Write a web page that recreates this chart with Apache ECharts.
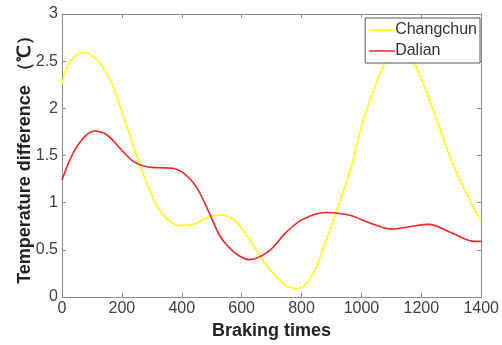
<!DOCTYPE html>
<html>
<head>
<meta charset="utf-8">
<script src="https://cdn.jsdelivr.net/npm/echarts@6/dist/echarts.min.js"></script>
<style>
  html, body { margin: 0; padding: 0; background: #fff; }
  #chart { width: 502px; height: 345px; }
</style>
</head>
<body>
<div id="chart"></div>
<script>
// values
const changchunX = [0, 27, 76, 115, 160, 193, 226, 259, 293, 326, 370, 403, 448, 492, 525, 559, 585, 636, 692, 747, 787, 835, 880, 918, 969, 1002, 1035, 1069, 1100, 1130, 1160, 1174, 1213, 1257, 1301, 1346, 1390, 1400];
const changchunY = [2.26, 2.5, 2.59, 2.52, 2.31, 2.03, 1.72, 1.41, 1.13, 0.92, 0.78, 0.757, 0.78, 0.85, 0.87, 0.85, 0.79, 0.56, 0.3, 0.125, 0.09, 0.23, 0.58, 0.92, 1.41, 1.83, 2.14, 2.42, 2.58, 2.64, 2.58, 2.5, 2.21, 1.83, 1.44, 1.13, 0.85, 0.82];
const dalianX = [0, 38, 76, 110, 149, 193, 237, 282, 326, 370, 403, 448, 492, 525, 553, 590, 625, 692, 747, 802, 880, 958, 1000, 1050, 1102, 1160, 1224, 1301, 1379, 1400];
const dalianY = [1.24, 1.53, 1.7, 1.76, 1.72, 1.58, 1.44, 1.38, 1.37, 1.365, 1.32, 1.17, 0.89, 0.66, 0.54, 0.44, 0.396, 0.49, 0.68, 0.82, 0.896, 0.87, 0.82, 0.76, 0.72, 0.745, 0.77, 0.68, 0.59, 0.59];

const zip = (xs, ys) => xs.map((x, i) => [x, ys[i]]);

const chart = echarts.init(document.getElementById("chart"));

const axisLine = { show: true, onZero: false, lineStyle: { color: "#8a8a8a", width: 1 } };
const axisTick = { show: true, inside: true, length: 4, lineStyle: { color: "#8a8a8a" } };
const tickFont = { color: "#404040", fontSize: 16, fontFamily: "Arial", formatter: (v) => String(v) };

chart.setOption({
  animation: false,
  grid: { left: 62, right: 19, top: 14, bottom: 43 },
  legend: {
    data: [
      { name: "Changchun", icon: "rect" },
      { name: "Dalian", icon: "rect" },
    ],
    orient: "vertical",
    right: 22,
    top: 18,
    backgroundColor: "#fff",
    borderColor: "#555",
    borderWidth: 1,
    borderRadius: 0,
    padding: [3, 3, 3, 4],
    itemGap: 3,
    itemWidth: 26,
    itemHeight: 1.5,
    textStyle: { color: "#333", fontSize: 16, fontFamily: "Arial", padding: [0, 0, 0, -5], lineHeight: 18 },
  },
  xAxis: [
    {
      type: "value",
      min: 0, max: 1400, interval: 200,
      name: "Braking times",
      nameLocation: "middle",
      nameGap: 25,
      nameMoveOverlap: false,
      nameTextStyle: { color: "#222", fontSize: 18, fontWeight: "bold", fontFamily: "Arial" },
      axisLine, axisTick,
      axisLabel: { ...tickFont, margin: 4 },
      splitLine: { show: false },
    },
    {
      type: "value", position: "top",
      min: 0, max: 1400, interval: 200,
      axisLine, axisTick,
      axisLabel: { show: false },
      splitLine: { show: false },
    },
  ],
  yAxis: [
    {
      type: "value",
      min: 0, max: 3, interval: 0.5,
      name: "Temperature difference （℃）",
      nameLocation: "middle",
      nameGap: 28,
      nameMoveOverlap: false,
      nameTextStyle: { color: "#222", fontSize: 18, fontWeight: "bold", fontFamily: "Arial" },
      axisLine, axisTick,
      axisLabel: { ...tickFont, margin: 4 },
      splitLine: { show: false },
    },
    {
      type: "value", position: "right",
      min: 0, max: 3, interval: 0.5,
      axisLine, axisTick,
      axisLabel: { show: false },
      splitLine: { show: false },
    },
  ],
  series: [
    {
      name: "Changchun",
      type: "line",
      data: zip(changchunX, changchunY),
      smooth: 0.35,
      symbol: "none",
      color: "#ffff00",
      lineStyle: { width: 1.5, color: "#ffff00" },
      z: 2,
    },
    {
      name: "Dalian",
      type: "line",
      data: zip(dalianX, dalianY),
      smooth: 0.35,
      symbol: "none",
      color: "#f22424",
      lineStyle: { width: 1.6, color: "#f22424" },
      z: 2,
    },
  ],
});
</script>
</body>
</html>
